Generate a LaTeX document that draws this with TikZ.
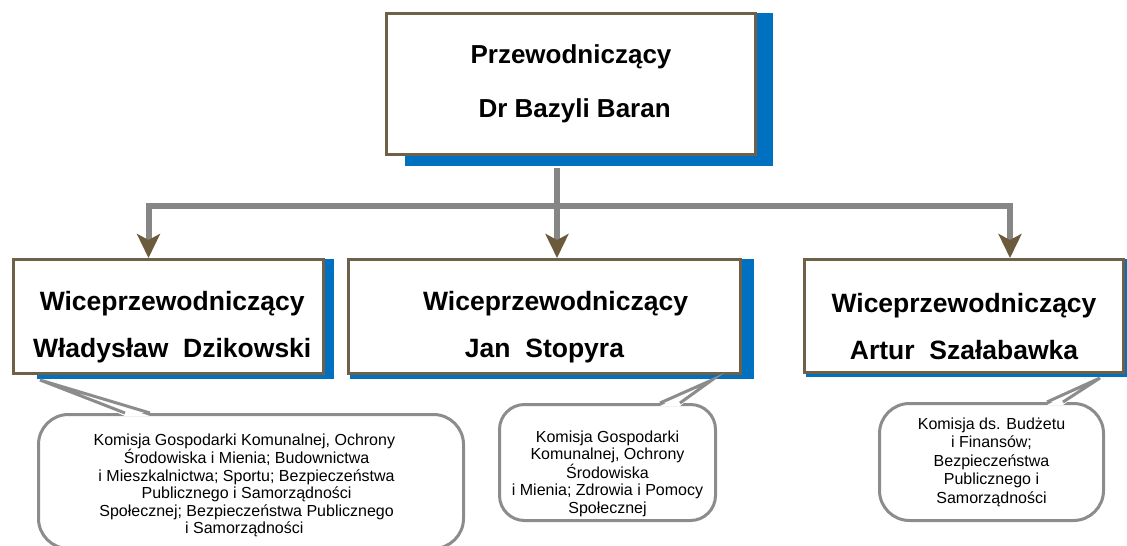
\documentclass[tikz,border=0pt]{standalone}
\usepackage{fontspec}
\setmainfont{Liberation Sans}
\usepackage{tikz}
\usetikzlibrary{arrows.meta, backgrounds}
\definecolor{boxline}{HTML}{6F6148}
\definecolor{tipbrown}{HTML}{6B5B3C}
\definecolor{conngray}{HTML}{868686}
\definecolor{shadowblue}{HTML}{0070C0}
\definecolor{bubblegray}{HTML}{8C8C8C}
% extra room above the first line, pushes the text block down
\newcommand{\lowerby}[1]{\rule{0pt}{#1}}

\begin{document}
\begin{tikzpicture}[x=1pt,y=-1pt,>={Stealth[length=24pt,width=23pt,inset=6pt,color=tipbrown,fill=tipbrown]}]
            \tikzset{post/.style={draw=boxline, line width=3pt, fill=white, inner sep=0pt, align=center, font=\fontsize{26.5}{47}\selectfont\bfseries}}
            \tikzset{bubble/.style={draw=bubblegray, line width=3pt, fill=white, rounded corners=30pt, inner sep=0pt, align=center, font=\fontsize{16}{17.4}\selectfont}}
            \tikzset{conn/.style={draw=conngray, line width=6pt}}
            \tikzset{tail/.style={draw=bubblegray, line width=3pt, line join=miter}}
            \useasboundingbox (0,0) rectangle (1127,546);
            % boxes
            \node[post, minimum width=369pt, minimum height=141pt, font=\fontsize{26}{54}\selectfont\bfseries] (chair) at (571,84) {Przewodniczący\\ \ Dr Bazyli Baran};
            \node[post, minimum width=310pt, minimum height=114pt] (vL) at (168.5,316.5) {\lowerby{40pt}\ Wiceprzewodniczący\\ \ Władysław\ \ Dzikowski};
            \node[post, minimum width=392pt, minimum height=114pt] (vM) at (544.5,316.5) {\lowerby{40pt}\ \ \ Wiceprzewodniczący\\ Jan\ \ Stopyra};
            \node[post, minimum width=319pt, minimum height=113pt] (vR) at (964,316) {\lowerby{40pt}Wiceprzewodniczący\\ Artur\ \ Szałabawka};
            \begin{scope}[on background layer]
            \fill[shadowblue] ([shift={(20,10)}]chair.south west) rectangle ([shift={(16,1)}]chair.north east);
            \fill[shadowblue] ([shift={(25,4)}]vL.south west) rectangle ([shift={(9,1)}]vL.north east);
            \fill[shadowblue] ([shift={(3,4)}]vM.south west) rectangle ([shift={(12,1)}]vM.north east);
            \fill[shadowblue] ([shift={(3,3)}]vR.south west) rectangle ([shift={(10,1)}]vR.north east);
            \end{scope}
            % connectors
            \coordinate (jtop) at (557,168);
            \coordinate (jmid) at (557,206);
            \draw[conn] (jtop) -- (jmid);
            \draw[conn,->] (jmid) -| ([xshift=-20pt]vL.north);
            \draw[conn,->] (jmid) -- ([xshift=12.5pt]vM.north);
            \draw[conn,->] (jmid) -| ([xshift=46pt]vR.north);
            % commissions
            \node[bubble, minimum width=425pt, minimum height=134pt] (cL) at (251,481.5) {\lowerby{19pt}Komisja Gospodarki Komunalnej, Ochrony\ \ \ \ \\ Środowiska i Mienia; Budownictwa\ \ \ \ \\ i Mieszkalnictwa; Sportu; Bezpieczeństwa\ \ \ \ \\ Publicznego i Samorządności\ \ \ \ \\ Społecznej; Bezpieczeństwa Publicznego\ \ \ \ \\ i Samorządności\ \ \ \ };
            \node[bubble, minimum width=216pt, minimum height=116pt, rounded corners=25pt] (cM) at (607.5,462.5) {\lowerby{34pt}Komisja Gospodarki\\ Komunalnej, Ochrony\\ Środowiska\\ i Mienia; Zdrowia i Pomocy\\ Społecznej};
            \node[bubble, minimum width=224pt, minimum height=117pt, font=\fontsize{16}{18.5}\selectfont] (cR) at (991.5,462) {Komisja ds. Budżetu\\ i Finansów;\\ Bezpieczeństwa\\ Publicznego i\\ Samorządności};
            \coordinate (tL) at ([shift={(28,5)}]vL.south west);
            \coordinate (tM) at ([shift={(-30,5)}]vM.south east);
            \coordinate (tR) at ([shift={(-25,4)}]vR.south east);
            \fill[white] ([shift={(88,3)}]cL.north west) -- (tL) -- ([shift={(113,3)}]cL.north west) -- cycle;
            \draw[tail] ([xshift=88pt]cL.north west) -- (tL) -- ([xshift=113pt]cL.north west);
            \fill[white] ([shift={(162,3)}]cM.north west) -- (tM) -- ([shift={(182,3)}]cM.north west) -- cycle;
            \draw[tail] ([xshift=162pt]cM.north west) -- (tM) -- ([xshift=182pt]cM.north west);
            \fill[white] ([shift={(169,3)}]cR.north west) -- (tR) -- ([shift={(185,3)}]cR.north west) -- cycle;
            \draw[tail] ([xshift=169pt]cR.north west) -- (tR) -- ([xshift=185pt]cR.north west);
        \end{tikzpicture}
\end{document}
